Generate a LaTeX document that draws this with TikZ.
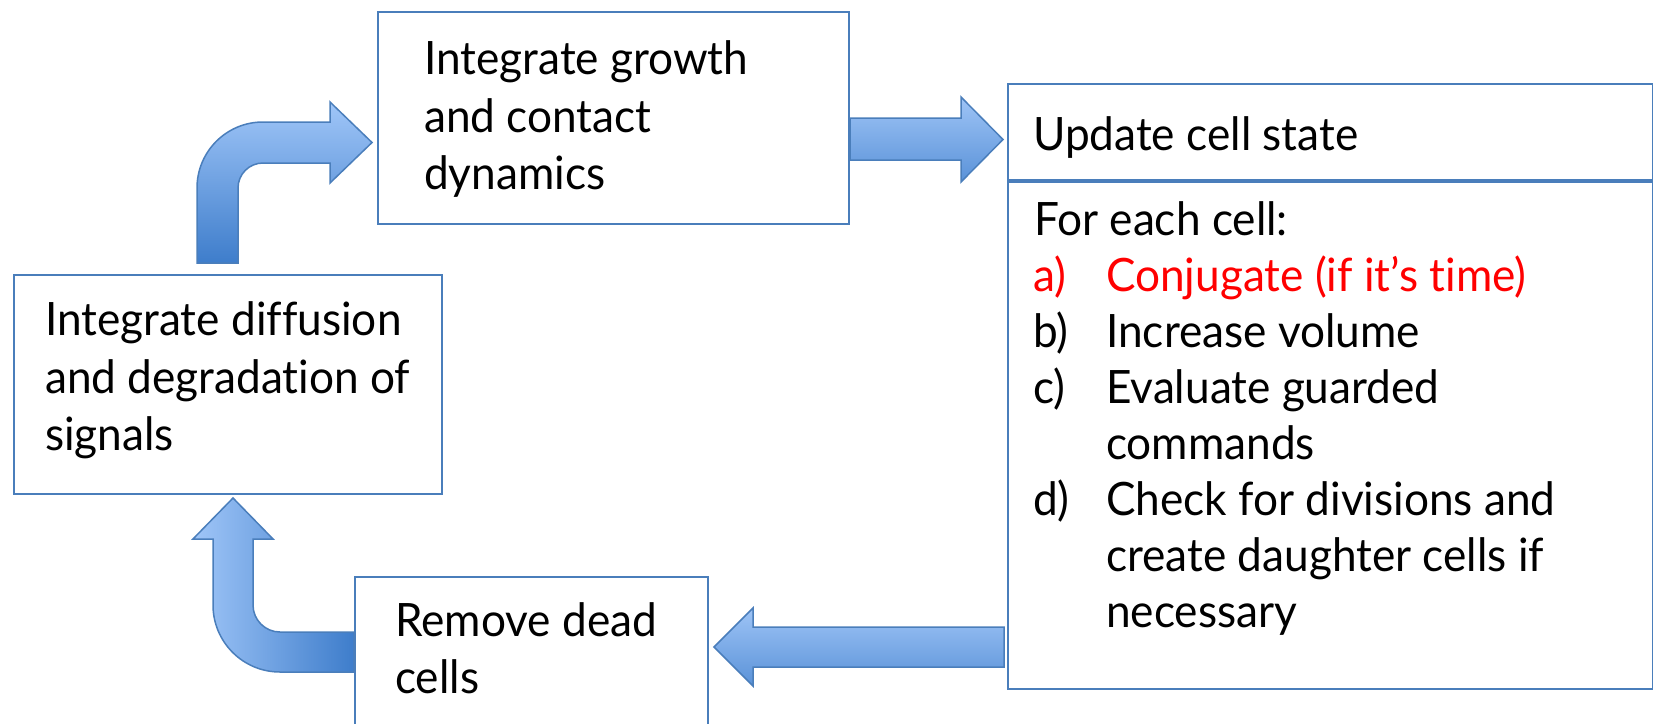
\documentclass[tikz,border=0pt]{standalone}
\usepackage{fontspec}
\setmainfont{Lato}[Ligatures=NoCommon, FakeStretch=0.96]
\definecolor{bord}{HTML}{4A7EBB}
\definecolor{alight}{HTML}{A0C6F8}
\definecolor{adark}{HTML}{3E7DCB}
\definecolor{hlight}{HTML}{9EC4F6}
\definecolor{hdark}{HTML}{5A92D8}
\definecolor{redtxt}{HTML}{FF0000}
\begin{document}
\begin{tikzpicture}[x=1pt,y=-1pt,
  box/.style={draw=bord, line width=2pt, fill=white, inner sep=0pt, anchor=north west},
  txt/.style={anchor=base west, inner sep=0pt, font=\fontsize{46}{56}\selectfont},
  blockarrow/.style={draw=bord, line width=1.5pt, line join=miter}]
\useasboundingbox (0,0) rectangle (1653,723);
\clip (0,0) rectangle (1653,723);
\fill[white] (0,0) rectangle (1653,723);
% boxes
\node[box, minimum width=471pt, minimum height=212pt] (growth) at (377,11) {};
\node[box, minimum width=645pt, minimum height=96pt] (header) at (1007,83) {};
\node[box, minimum width=645pt, minimum height=507pt] (body) at (1007,181) {};
\node[box, minimum width=428pt, minimum height=219pt] (diffusion) at (13,274) {};
\node[box, minimum width=353pt, minimum height=170pt] (remove) at (354,576) {};
% texts
\node[txt] (g1) at (424,74) {Integrate growth};
\node[txt] (g2) at (424,132) {and contact};
\node[txt] (g3) at (424,189) {dynamics};
\node[txt] (d1) at (45,335) {Integrate diffusion};
\node[txt] (d2) at (45,393) {and degradation of};
\node[txt] (d3) at (45,450) {signals};
\node[txt] (r1) at (395,636) {Remove dead};
\node[txt] (r2) at (395,693) {cells};
\node[txt] (h1) at (1033,150) {Update cell state};
\node[txt] (b0) at (1034,235) {For each cell:};
\node[txt, text=redtxt] (la) at (1033,291) {a)};
\node[txt, text=redtxt] (ta) at (1106,291) {Conjugate (if it’s time)};
\node[txt] (lb) at (1033,347) {b)};
\node[txt] (tb) at (1106,347) {Increase volume};
\node[txt] (lc) at (1033,403) {c)};
\node[txt] (tc) at (1106,403) {Evaluate guarded};
\node[txt] (tc2) at (1106,459) {commands};
\node[txt] (ld) at (1033,515) {d)};
\node[txt] (td) at (1106,515) {Check for divisions and};
\node[txt] (td2) at (1106,571) {create daughter cells if};
\node[txt] (td3) at (1106,627) {necessary};
% block arrows
\shade[blockarrow, top color=alight, bottom color=adark]
  (197,263) -- (197,188) .. controls (197,151.5) and (226.5,122) .. (263,122)
  -- (330,122) -- (330,102) -- (372,142.5) -- (330,183) -- (330,163) -- (263,163)
  .. controls (249.2,163) and (238,174.2) .. (238,188) -- (238,263) -- cycle;
\shade[blockarrow, top color=hlight, bottom color=hdark]
  (850,118) -- (961,118) -- (961,97) -- (1003,139.5) -- (961,182) -- (961,160) -- (850,160) -- cycle;
\shade[blockarrow, top color=hlight, bottom color=hdark]
  (1004,627) -- (753,627) -- (753,608) -- (714,647) -- (753,686) -- (753,667) -- (1004,667) -- cycle;
\shade[blockarrow, left color=alight, right color=adark]
  (354,632) -- (280,632) .. controls (265.1,632) and (253,619.9) .. (253,605)
  -- (253,539) -- (273,539) -- (233,498) -- (193,539) -- (213,539) -- (213,605)
  .. controls (213,642) and (243,672) .. (280,672) -- (354,672) -- cycle;
\end{tikzpicture}
\end{document}
